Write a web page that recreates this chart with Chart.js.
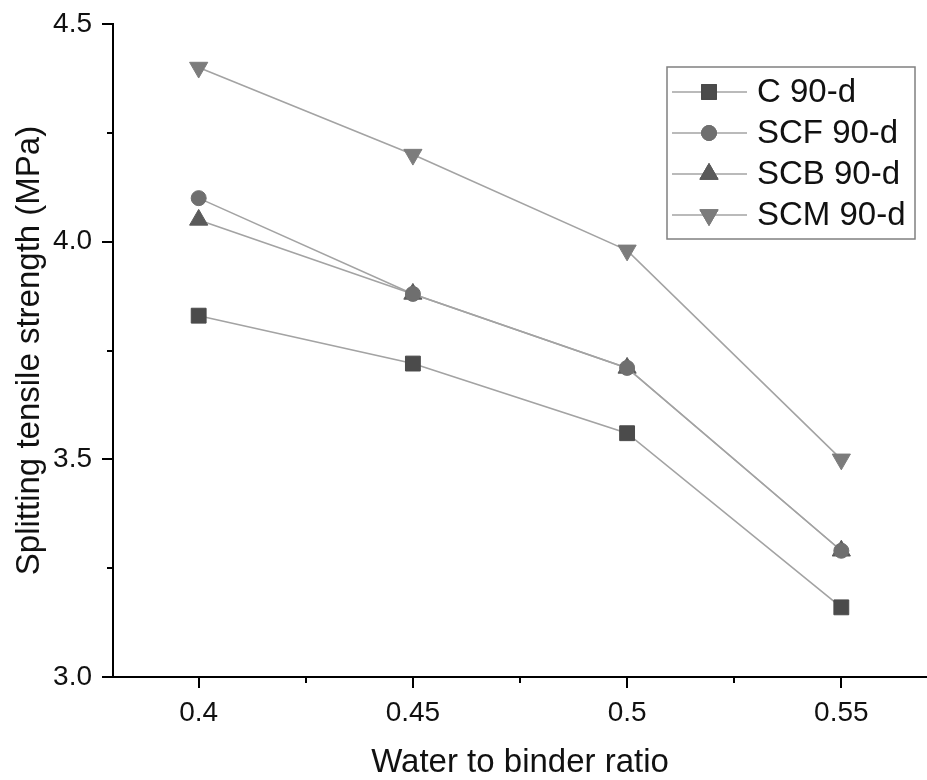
<!DOCTYPE html>
<html>
<head>
<meta charset="utf-8">
<script src="https://cdn.jsdelivr.net/npm/chart.js@4/dist/chart.umd.min.js"></script>
<style>
  html, body { margin: 0; padding: 0; background: #fff; }
  #wrap { width: 927px; height: 780px; position: relative; }
</style>
</head>
<body>
<div id="wrap"><canvas id="c" width="927" height="780"></canvas></div>
<script>
// ---- data ----
const waterBinder = [0.4, 0.45, 0.5, 0.55];
const C90  = [3.83, 3.72, 3.56, 3.16];
const SCF90 = [4.10, 3.88, 3.71, 3.29];
const SCB90 = [4.05, 3.88, 3.71, 3.29];
const SCM90 = [4.40, 4.20, 3.98, 3.50];
const seriesNames = ['C 90-d', 'SCF 90-d', 'SCB 90-d', 'SCM 90-d'];
const xMajorTicks = [0.4, 0.45, 0.5, 0.55];
const xMinorTicks = [0.425, 0.475, 0.525];
const yMajorTicks = [3.0, 3.5, 4.0, 4.5];
const yMinorTicks = [3.25, 3.75, 4.25];

const FONT = '"Liberation Sans", Arial, Helvetica, sans-serif';
const LINE_COLOR = '#a3a3a3';

function pts(ys) { return waterBinder.map((x, i) => ({ x: x, y: ys[i] })); }

const styles = [
  { color: '#4b4b4b', pointStyle: 'rect', radius: 10.5, rotation: 0 },
  { color: '#6f6f6f', pointStyle: 'circle', radius: 7.5, rotation: 0 },
  { color: '#5a5a5a', pointStyle: 'triangle', radius: 10.5, rotation: 0 },
  { color: '#7c7c7c', pointStyle: 'triangle', radius: 10.5, rotation: 180 }
];
const allSeries = [C90, SCF90, SCB90, SCM90];

const datasets = allSeries.map((ys, i) => ({
  label: seriesNames[i],
  data: pts(ys),
  borderColor: LINE_COLOR,
  borderWidth: 1.6,
  tension: 0,
  fill: false,
  pointStyle: styles[i].pointStyle,
  pointRadius: styles[i].radius,
  pointHoverRadius: styles[i].radius,
  pointRotation: styles[i].rotation,
  pointBackgroundColor: styles[i].color,
  pointBorderColor: styles[i].color,
  pointBorderWidth: 1
}));

function drawMarker(ctx, st, x, y) {
  ctx.save();
  ctx.fillStyle = st.color;
  ctx.strokeStyle = st.color;
  ctx.lineWidth = 1;
  if (Chart.helpers && Chart.helpers.drawPoint) {
    Chart.helpers.drawPoint(ctx, { pointStyle: st.pointStyle, rotation: st.rotation, radius: st.radius, borderWidth: 1 }, x, y);
    ctx.fill(); ctx.stroke();
  } else {
    ctx.beginPath();
    ctx.arc(x, y, st.radius, 0, Math.PI * 2);
    ctx.fill();
  }
  ctx.restore();
}

const tickPlugin = {
  id: 'tickMarks',
  afterDraw(chart) {
    const ctx = chart.ctx;
    const xs = chart.scales.x, ys = chart.scales.y;
    const a = chart.chartArea;
    ctx.save();
    ctx.strokeStyle = '#000';
    ctx.lineWidth = 2;
    ctx.beginPath();
    xMajorTicks.forEach(v => { const p = Math.round(xs.getPixelForValue(v)); ctx.moveTo(p, a.bottom); ctx.lineTo(p, a.bottom + 11); });
    xMinorTicks.forEach(v => { const p = Math.round(xs.getPixelForValue(v)); ctx.moveTo(p, a.bottom); ctx.lineTo(p, a.bottom + 6); });
    yMajorTicks.forEach(v => { const p = Math.round(ys.getPixelForValue(v)); ctx.moveTo(a.left, p); ctx.lineTo(a.left - 11, p); });
    yMinorTicks.forEach(v => { const p = Math.round(ys.getPixelForValue(v)); ctx.moveTo(a.left, p); ctx.lineTo(a.left - 6, p); });
    ctx.stroke();
    ctx.restore();
  }
};

const legendPlugin = {
  id: 'boxLegend',
  afterDraw(chart) {
    const ctx = chart.ctx;
    ctx.save();
    ctx.strokeStyle = '#808080';
    ctx.lineWidth = 1.5;
    ctx.strokeRect(667, 67, 248, 172);
    const rowY = [92, 133, 174, 215];
    ctx.font = '33px ' + FONT;
    ctx.textBaseline = 'middle';
    ctx.textAlign = 'left';
    seriesNames.forEach((name, i) => {
      const y = rowY[i];
      ctx.strokeStyle = LINE_COLOR;
      ctx.lineWidth = 1.6;
      ctx.beginPath(); ctx.moveTo(672, y); ctx.lineTo(747, y); ctx.stroke();
      drawMarker(ctx, styles[i], 709, y);
      ctx.fillStyle = '#111';
      ctx.fillText(name, 757, y + 1);
    });
    ctx.restore();
  }
};

new Chart(document.getElementById('c'), {
  type: 'line',
  data: { datasets: datasets },
  options: {
    responsive: false,
    animation: false,
    events: [],
    layout: { autoPadding: false, padding: { top: 24, right: 0, left: 0, bottom: 0 } },
    plugins: { legend: { display: false }, tooltip: { enabled: false } },
    scales: {
      x: {
        type: 'linear',
        min: 0.38, max: 0.57,
        afterBuildTicks(scale) { scale.ticks = xMajorTicks.map(v => ({ value: v })); },
        afterFit(scale) { scale.height = 103; scale.paddingLeft = 0; scale.paddingRight = 0; },
        grid: { display: true, drawOnChartArea: false, drawTicks: false },
        border: { display: true, color: '#000', width: 2 },
        ticks: {
          padding: 19,
          color: '#111',
          font: { family: FONT, size: 28 },
          maxRotation: 0,
          callback: v => String(Math.round(v * 100) / 100)
        },
        title: {
          display: true,
          text: 'Water to binder ratio',
          color: '#111',
          font: { family: FONT, size: 33, lineHeight: 1 },
          padding: { top: 0, bottom: 1 }
        }
      },
      y: {
        type: 'linear',
        min: 3.0, max: 4.5,
        afterBuildTicks(scale) { scale.ticks = yMajorTicks.map(v => ({ value: v })); },
        afterFit(scale) { scale.width = 113; scale.paddingTop = 0; scale.paddingBottom = 0; },
        grid: { display: true, drawOnChartArea: false, drawTicks: false },
        border: { display: true, color: '#000', width: 2 },
        ticks: {
          padding: 21,
          color: '#111',
          font: { family: FONT, size: 28 },
          callback: v => Number(v).toFixed(1)
        },
        title: {
          display: true,
          text: 'Splitting tensile strength (MPa)',
          color: '#111',
          font: { family: FONT, size: 33, lineHeight: 1 },
          padding: { top: 13, bottom: 0 }
        }
      }
    }
  },
  plugins: [tickPlugin, legendPlugin]
});
</script>
</body>
</html>
